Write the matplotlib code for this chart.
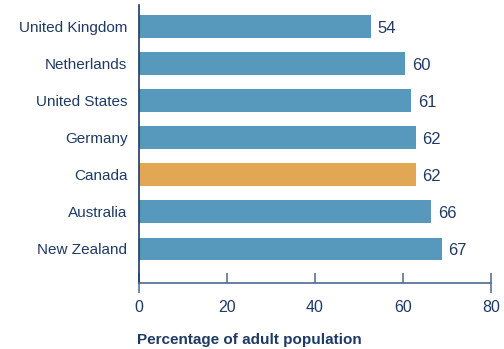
import matplotlib.pyplot as plt

countries = ['United Kingdom', 'Netherlands', 'United States', 'Germany',
             'Canada', 'Australia', 'New Zealand']
bar_values = [52.8, 60.6, 61.9, 62.9, 62.9, 66.5, 68.8]
value_labels = ['54', '60', '61', '62', '62', '66', '67']
highlight = 'Canada'
x_ticks = [0, 20, 40, 60, 80]

navy = '#1f3a64'
blue = '#5799bd'
orange = '#e2a755'

plt.rcParams['font.family'] = ['Liberation Sans', 'DejaVu Sans']

fig = plt.figure(figsize=(5.04, 3.49), dpi=100)
ax = fig.add_axes([139.3 / 504, 1 - 283 / 349, (490.7 - 139.3) / 504, (283 - 5) / 349])

pos = list(range(len(countries)))
colors = [orange if c == highlight else blue for c in countries]
ax.barh(pos, bar_values, height=0.61, color=colors, zorder=2)

for p, v, lab in zip(pos, bar_values, value_labels):
    ax.text(v + 1.5, p + 0.05, lab, va='center', ha='left', fontsize=12, color=navy)

ax.set_xlim(0, 80)
ax.set_ylim(6.92, -0.574)
ax.set_yticks(pos)
ax.set_yticklabels(countries, fontsize=11, color=navy)
ax.tick_params(axis='y', length=0, pad=8.5)

ax.set_xticks(x_ticks)
ax.set_xticklabels([str(t) for t in x_ticks], fontsize=11.5, color=navy)
ax.tick_params(axis='x', direction='in', length=7.5, width=1.2, color='#5a7598', pad=12.5)
ticks = ax.xaxis.get_major_ticks()
for t in (ticks[0], ticks[-1]):
    t.tick1line.set_marker('|')
    t.tick1line.set_markersize(15)

for s in ['top', 'right']:
    ax.spines[s].set_visible(False)
ax.spines['left'].set_color(navy)
ax.spines['left'].set_linewidth(1.2)
ax.spines['bottom'].set_color('#4a6a90')
ax.spines['bottom'].set_linewidth(1.2)

fig.text(137 / 504, 1 - 340 / 349, 'Percentage of adult population', fontsize=11,
         fontweight='bold', color=navy, ha='left', va='center')

fig.savefig('out.png', dpi=100)
